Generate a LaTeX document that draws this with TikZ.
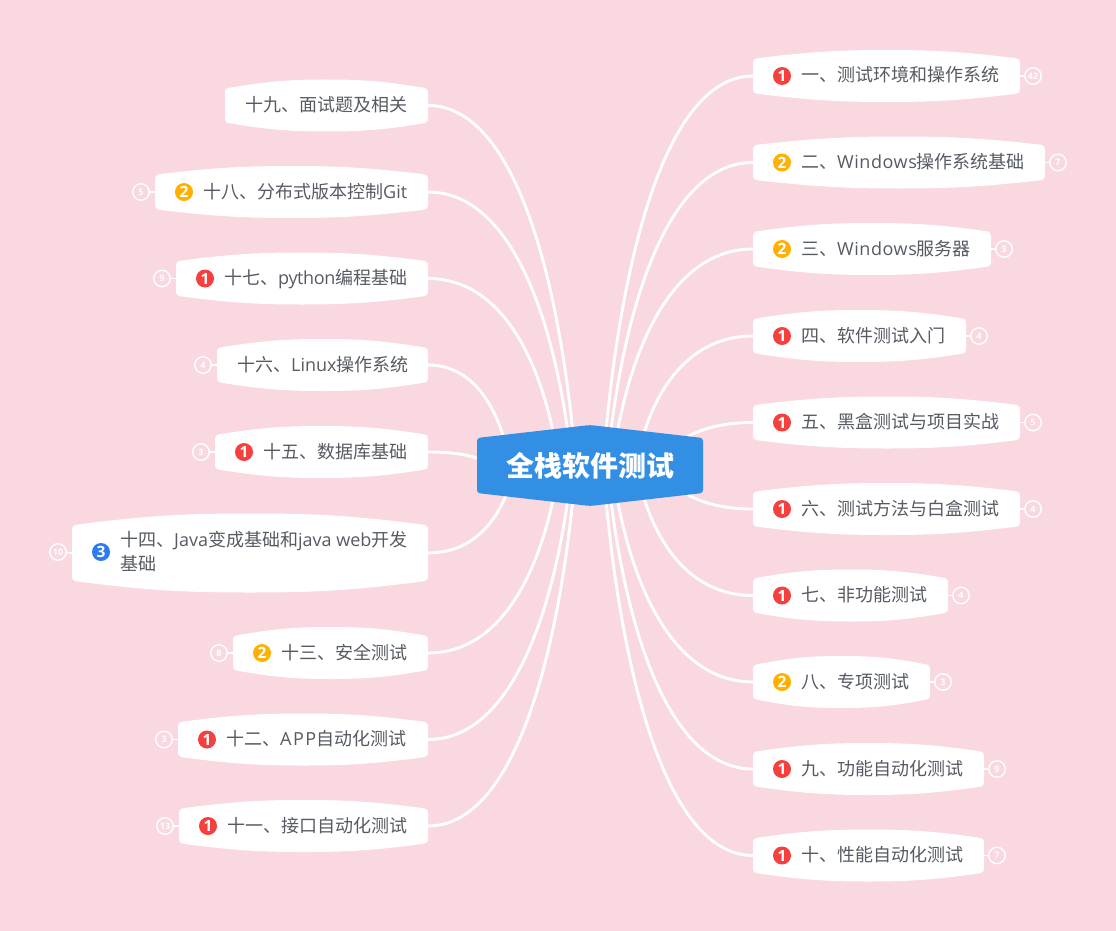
\documentclass[tikz,border=0pt]{standalone}
\usepackage{fontspec}
\setmainfont{Open Sans}
\newfontfamily\cjk{Noto Sans CJK SC}
\newfontfamily\latwide[LetterSpace=3]{Open Sans}
\newfontfamily\latnarrow[LetterSpace=-2]{Open Sans}
\usetikzlibrary{calc}
\pgfdeclarelayer{backdrop}
\pgfdeclarelayer{links}
\pgfsetlayers{backdrop,links,main}
\definecolor{bgpink}{HTML}{F9D8E0}
\definecolor{rootblue}{HTML}{328FE3}
\definecolor{txt}{HTML}{565B63}
\definecolor{ired}{HTML}{F5413D}
\definecolor{iorange}{HTML}{FFB000}
\definecolor{iblue}{HTML}{2B7CF0}
\newcommand{\C}[1]{{\cjk #1}}
\tikzset{
  x=1pt,y=-1pt,
  linkline/.style={draw=white,line width=2.9pt,line cap=round},
  tickline/.style={draw=white,line width=1.8pt},
  anchorbox/.style={inner sep=0pt,outer sep=0pt,draw=none},
  badge/.style={circle,draw=white,line width=1.4pt,inner sep=0pt,minimum size=16.5pt,text=white,font=\fontsize{9}{9}\selectfont\bfseries},
  icon/.style={circle,inner sep=0pt,minimum size=18pt,text=white,font=\fontsize{15.5}{15.5}\selectfont\bfseries},
  label/.style={anchor=base west,inner sep=0pt,text=txt,font=\fontsize{18}{24}\selectfont},
}
% id x0 x1 y halfedge halfmid
\newcommand{\branch}[6]{%
  \node[anchorbox,minimum width={(#3-#2)*1pt},minimum height={2*#5*1pt}] (#1) at ({(#2+#3)/2},#4) {};
  \pgfmathsetmacro{\xa}{#2}\pgfmathsetmacro{\xb}{#3}\pgfmathsetmacro{\xm}{(#2+#3)/2}
  \pgfmathsetmacro{\ta}{#4-#5}\pgfmathsetmacro{\tm}{#4-#6}\pgfmathsetmacro{\ba}{#4+#5}\pgfmathsetmacro{\bm}{#4+#6}
  \fill[white] (\xa,\ta+5) .. controls (\xa,\ta+1) and (\xa+2,\ta) .. (\xa+6,\ta-.5)
    .. controls ({\xa+.22*(\xb-\xa)},\tm+1.5) and ({\xa+.33*(\xb-\xa)},\tm) .. (\xm,\tm)
    .. controls ({\xb-.33*(\xb-\xa)},\tm) and ({\xb-.22*(\xb-\xa)},\tm+1.5) .. (\xb-6,\ta-.5)
    .. controls (\xb-2,\ta) and (\xb,\ta+1) .. (\xb,\ta+5)
    -- (\xb,\ba-5) .. controls (\xb,\ba-1) and (\xb-2,\ba) .. (\xb-6,\ba+.5)
    .. controls ({\xb-.22*(\xb-\xa)},\bm-1.5) and ({\xb-.33*(\xb-\xa)},\bm) .. (\xm,\bm)
    .. controls ({\xa+.33*(\xb-\xa)},\bm) and ({\xa+.22*(\xb-\xa)},\bm-1.5) .. (\xa+6,\ba+.5)
    .. controls (\xa+2,\ba) and (\xa,\ba-1) .. (\xa,\ba-5) -- cycle;
}
% node, anchor, signed offset of the hidden start from the root centre
\newcommand{\linkto}[3]{%
  \begin{pgfonlayer}{links}
  \draw[linkline] let \p1=(root.center),\p2=(#1.#2),\n1={\x1+(#3)*1pt},\n2={\x2-\n1},\n3={\y2-\y1} in
    (\n1,\y1) .. controls ({\n1+.1*\n2},{\y1+.5*\n3}) and ({\x2-.6*\n2},\y2) .. (\p2);
  \end{pgfonlayer}
}
\newcommand{\tick}[3]{% node, anchor, badge
  \begin{pgfonlayer}{links}\draw[tickline] (#1.#2) -- (#3);\end{pgfonlayer}
}
\begin{document}
\begin{tikzpicture}
\begin{pgfonlayer}{backdrop}
\fill[bgpink] (0,0) rectangle (1116,931);
\end{pgfonlayer}
\path[use as bounding box] (0,0) rectangle (1116,931);
% root
\fill[rootblue,rounded corners=3pt] (477,438) -- (590,425) -- (703,438) -- (703,493) -- (590,506) -- (477,493) -- cycle;
\node[inner sep=0pt,text=white,font=\fontsize{28}{28}\selectfont\bfseries\cjk] (root) at (590,465.5) {全栈软件测试};
% right side
\branch{n1}{753}{1020}{76}{17.5}{26}
\branch{n2}{753}{1045}{162.5}{17.5}{26}
\branch{n3}{753}{991}{249}{17.5}{26}
\branch{n4}{753}{966}{336}{17.5}{26}
\branch{n5}{753}{1020}{422.5}{17.5}{26}
\branch{n6}{753}{1020}{509}{17.5}{26}
\branch{n7}{753}{948}{595.5}{17.5}{26}
\branch{n8}{753}{930}{682}{17.5}{26}
\branch{n9}{753}{984}{769}{17.5}{26}
\branch{n10}{753}{984}{855.5}{17.5}{26}
% left side
\branch{n19}{225}{428}{105.5}{17.5}{26}
\branch{n18}{155}{428}{192}{17.5}{26}
\branch{n17}{176}{428}{278.5}{17.5}{26}
\branch{n16}{217}{428}{365}{17.5}{26}
\branch{n15}{215}{428}{452}{17.5}{26}
\branch{n14}{72}{428}{553}{28}{39.5}
\branch{n13}{233}{428}{653}{17.5}{26}
\branch{n12}{178}{428}{739.5}{17.5}{26}
\branch{n11}{179}{428}{826}{17.5}{26}
% icons
\node[icon,fill=ired] (i1) at (782,76) {1};
\node[icon,fill=iorange] (i2) at (782,162.5) {2};
\node[icon,fill=iorange] (i3) at (782,249) {2};
\node[icon,fill=ired] (i4) at (782,336) {1};
\node[icon,fill=ired] (i5) at (782,422.5) {1};
\node[icon,fill=ired] (i6) at (782,509) {1};
\node[icon,fill=ired] (i7) at (782,595.5) {1};
\node[icon,fill=iorange] (i8) at (782,682) {2};
\node[icon,fill=ired] (i9) at (782,769) {1};
\node[icon,fill=ired] (i10) at (782,855.5) {1};
\node[icon,fill=iorange] (i18) at (184,192) {2};
\node[icon,fill=ired] (i17) at (205,278.5) {1};
\node[icon,fill=ired] (i15) at (244,452) {1};
\node[icon,fill=iblue] (i14) at (101,552) {3};
\node[icon,fill=iorange] (i13) at (262,653) {2};
\node[icon,fill=ired] (i12) at (207,739.5) {1};
\node[icon,fill=ired] (i11) at (208,826) {1};
% labels
\node[label] (t1) at (801,82) {\C{一、测试环境和操作系统}};
\node[label] (t2) at (801,168.5) {\C{二、}{\latwide Windows}\C{操作系统基础}};
\node[label] (t3) at (801,255) {\C{三、}{\latwide Windows}\C{服务器}};
\node[label] (t4) at (801,342) {\C{四、软件测试入门}};
\node[label] (t5) at (801,428.5) {\C{五、黑盒测试与项目实战}};
\node[label] (t6) at (801,515) {\C{六、测试方法与白盒测试}};
\node[label] (t7) at (801,601.5) {\C{七、非功能测试}};
\node[label] (t8) at (801,688) {\C{八、专项测试}};
\node[label] (t9) at (801,775) {\C{九、功能自动化测试}};
\node[label] (t10) at (801,861.5) {\C{十、性能自动化测试}};
\node[label] (t19) at (245,111.5) {\C{十九、面试题及相关}};
\node[label] (t18) at (203,198) {\C{十八、分布式版本控制}Git};
\node[label] (t17) at (224,284.5) {\C{十七、}{\latnarrow python}\C{编程基础}};
\node[label] (t16) at (237,371) {\C{十六、}Linux\C{操作系统}};
\node[label] (t15) at (263,458) {\C{十五、数据库基础}};
\node[label] (t14a) at (120,546) {\C{十四、}Java\C{变成基础和}java web\C{开发}};
\node[label] (t14b) at (120,570) {\C{基础}};
\node[label] (t13) at (281,659) {\C{十三、安全测试}};
\node[label] (t12) at (226,745.5) {\C{十二、}{\fontspec[LetterSpace=8]{Open Sans}APP}\C{自动化测试}};
\node[label] (t11) at (227,832) {\C{十一、接口自动化测试}};
% badges
\node[badge] (b1) at (1033,76) {42};
\node[badge] (b2) at (1058,162.5) {7};
\node[badge] (b3) at (1004,249) {3};
\node[badge] (b4) at (979,336) {4};
\node[badge] (b5) at (1033,422.5) {5};
\node[badge] (b6) at (1033,509) {4};
\node[badge] (b7) at (961,595.5) {4};
\node[badge] (b8) at (943,682) {3};
\node[badge] (b9) at (997,769) {9};
\node[badge] (b10) at (997,855.5) {7};
\node[badge] (b18) at (141,192) {5};
\node[badge] (b17) at (162,278.5) {9};
\node[badge] (b16) at (203,365) {4};
\node[badge] (b15) at (201,452) {3};
\node[badge] (b14) at (58,552) {10};
\node[badge] (b13) at (219,653) {8};
\node[badge] (b12) at (164,739.5) {3};
\node[badge] (b11) at (165,826) {13};
% connectors
\linkto{n1}{west}{13}\linkto{n2}{west}{17}\linkto{n3}{west}{22}\linkto{n4}{west}{46}\linkto{n5}{west}{70}
\linkto{n6}{west}{70}\linkto{n7}{west}{46}\linkto{n8}{west}{22}\linkto{n9}{west}{17}\linkto{n10}{west}{13}
\linkto{n19}{east}{-14}\linkto{n18}{east}{-18}\linkto{n17}{east}{-31}\linkto{n16}{east}{-80}\linkto{n15}{east}{-100}
\linkto{n14}{east}{-75}\linkto{n13}{east}{-31}\linkto{n12}{east}{-18}\linkto{n11}{east}{-14}
\foreach \k in {1,...,10}{\tick{n\k}{east}{b\k}}
\foreach \k in {11,...,18}{\tick{n\k}{west}{b\k}}
\end{tikzpicture}
\end{document}
